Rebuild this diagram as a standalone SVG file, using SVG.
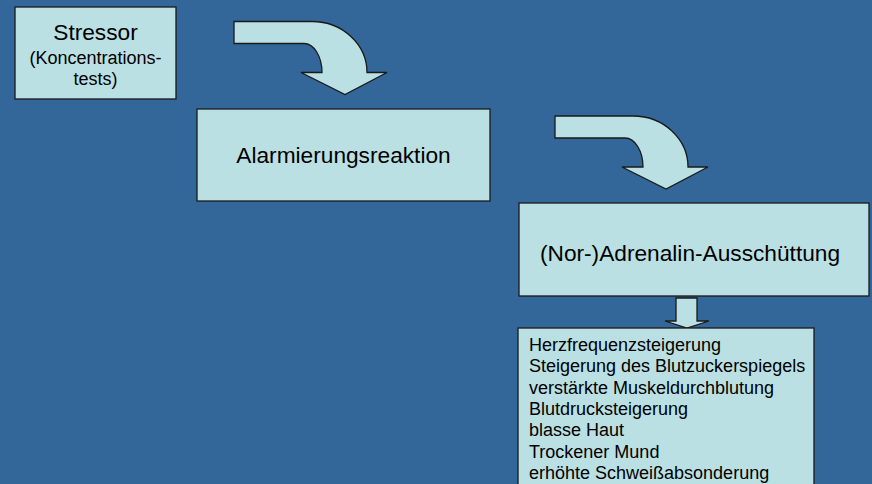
<svg xmlns="http://www.w3.org/2000/svg" xmlns:xlink="http://www.w3.org/1999/xlink" width="872" height="484" viewBox="0 0 872 484">
<style>
.bg{fill:#336699}
.box{fill:#BAE0E3;stroke:#1a1a1a;stroke-width:1.3}
.arrow{fill:#BAE0E3;stroke:#1a1a1a;stroke-width:1.3;stroke-linejoin:miter}
text{font-family:"Liberation Sans",Arial,sans-serif;fill:#000}
.big{font-size:22.7px}
.small{font-size:18px}
.mid{text-anchor:middle}
</style>
<defs>
<path id="bend" d="M0,0 L78,0 A55,51 0 0 1 133,51 L153,51 L111,73 L67,51 L88,51 A18,29 0 0 0 70,22 L0,22 Z"/>
</defs>
<rect class="bg" x="0" y="0" width="872" height="484"/>
<g id="connectors">
<use class="arrow" xlink:href="#bend" href="#bend" transform="translate(234,21.5)"/>
<use class="arrow" xlink:href="#bend" href="#bend" transform="translate(555,116)"/>
<path class="arrow" d="M676,298 L697,298 L697,321 L709,321 L687,328 L665,321 L676,321 Z"/>
</g>
<g id="stressor">
<rect class="box" x="15" y="7" width="161" height="92"/>
<text class="big mid" x="95.5" y="40">Stressor</text>
<text class="small mid" x="95.5" y="64">(Koncentrations-</text>
<text class="small mid" x="95.5" y="85">tests)</text>
</g>
<g id="alarm">
<rect class="box" x="197" y="109" width="293" height="92"/>
<text class="big mid" x="343.5" y="163">Alarmierungsreaktion</text>
</g>
<g id="adrenalin">
<rect class="box" x="519" y="203" width="350" height="93"/>
<text class="big mid" x="690" y="261">(Nor-)Adrenalin-Ausschüttung</text>
</g>
<g id="effects">
<rect class="box" x="518" y="328" width="296" height="170"/>
<text class="small" x="529" y="351">Herzfrequenzsteigerung</text>
<text class="small" x="529" y="372.3">Steigerung des Blutzuckerspiegels</text>
<text class="small" x="529" y="393.6">verstärkte Muskeldurchblutung</text>
<text class="small" x="529" y="414.9">Blutdrucksteigerung</text>
<text class="small" x="529" y="436.2">blasse Haut</text>
<text class="small" x="529" y="457.5">Trockener Mund</text>
<text class="small" x="529" y="478.8">erhöhte Schweißabsonderung</text>
</g>
</svg>
